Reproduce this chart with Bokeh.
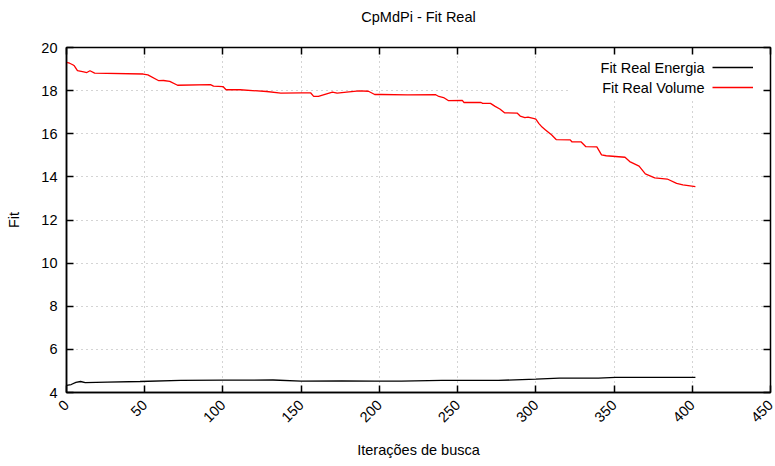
import math
from bokeh.plotting import figure
from bokeh.models import (Range1d, LinearAxis, Legend, LegendItem, Label,
                          BoxAnnotation, ColumnDataSource)
from bokeh.embed import file_html
from bokeh.resources import INLINE

# ---------------- data ----------------
title_text = "CpMdPi - Fit Real"
x_label = "Iterações de busca"
y_label = "Fit"
series_names = ["Fit Real Energia", "Fit Real Volume"]
x_ticks = [0, 50, 100, 150, 200, 250, 300, 350, 400, 450]
y_ticks = [4, 6, 8, 10, 12, 14, 16, 18, 20]

energia_iter = [0, 3, 6, 9, 12, 26, 47, 73, 100, 132, 150, 176, 197, 214,
                240, 276, 300, 315, 340, 351, 402]
energia_fit = [4.33, 4.37, 4.47, 4.51, 4.46, 4.48, 4.51, 4.56, 4.57, 4.58,
               4.53, 4.54, 4.53, 4.53, 4.56, 4.56, 4.62, 4.67, 4.67, 4.70,
               4.70]

volume_iter = [0, 2, 4, 5, 7, 11, 13, 15, 18, 49, 52, 59, 62, 66, 71, 92,
               94, 100, 102, 111, 128, 137, 150, 156, 158, 161, 170, 173,
               179, 187, 193, 197, 201, 218, 236, 238, 241, 244, 253, 254,
               265, 266, 271, 274, 277, 280, 288, 290, 293, 295, 299, 300,
               302, 304, 306, 310, 313, 322, 323, 329, 332, 339, 342, 345,
               357, 360, 366, 370, 376, 384, 390, 394, 402]
volume_fit = [19.31, 19.27, 19.20, 19.15, 18.93, 18.87, 18.84, 18.92,
              18.81, 18.77, 18.73, 18.46, 18.47, 18.43, 18.25, 18.28,
              18.21, 18.19, 18.04, 18.04, 17.96, 17.88, 17.90, 17.90,
              17.73, 17.73, 17.93, 17.88, 17.93, 17.99, 17.97, 17.82,
              17.82, 17.80, 17.81, 17.73, 17.68, 17.54, 17.55, 17.45,
              17.45, 17.41, 17.41, 17.27, 17.15, 16.97, 16.96, 16.82,
              16.75, 16.77, 16.70, 16.68, 16.47, 16.31, 16.19, 15.95,
              15.73, 15.72, 15.63, 15.62, 15.40, 15.39, 15.02, 14.98,
              14.91, 14.71, 14.50, 14.14, 13.95, 13.90, 13.70, 13.63,
              13.55]

# ---------------- style ----------------
FONT = "Liberation Sans"
FS = "14.5px"
GRID = "#a8a8a8"
FRAME_W, FRAME_H = 704, 345

p = figure(width=775, height=466, output_backend="svg", toolbar_location=None,
           x_range=Range1d(x_ticks[0], x_ticks[-1]),
           y_range=Range1d(y_ticks[0], y_ticks[-1]),
           min_border_left=66, min_border_right=5, min_border_top=47,
           min_border_bottom=74,
           title=title_text, x_axis_label=x_label, y_axis_label=y_label)

p.background_fill_color = "white"
p.border_fill_color = "white"
p.outline_line_color = "black"
p.outline_line_width = 1.5

p.title.text_font = FONT
p.title.text_font_size = FS
p.title.text_font_style = "normal"
p.title.text_color = "black"
p.title.align = "center"
p.title.standoff = 8

for ax in (p.xaxis[0], p.yaxis[0]):
    ax.major_tick_in = 7
    ax.major_tick_out = 0
    ax.minor_tick_in = 0
    ax.minor_tick_out = 0
    ax.major_tick_line_width = 1.5
    ax.axis_line_width = 1.5
    ax.axis_line_color = "black"
    ax.major_label_text_font = FONT
    ax.major_label_text_font_size = FS
    ax.major_label_text_color = "black"
    ax.axis_label_text_font = FONT
    ax.axis_label_text_font_size = FS
    ax.axis_label_text_font_style = "normal"
    ax.axis_label_text_color = "black"

p.xaxis.ticker = x_ticks
p.yaxis.ticker = y_ticks
p.xaxis.major_label_orientation = math.pi / 4
p.xaxis.major_label_standoff = 10
p.yaxis.major_label_standoff = 9
p.xaxis.axis_label_standoff = 12
p.yaxis.axis_label_standoff = 16

p.xgrid.ticker = x_ticks
p.ygrid.ticker = y_ticks
for g in (p.xgrid[0], p.ygrid[0]):
    g.grid_line_color = GRID
    g.grid_line_dash = "1 4"
    g.grid_line_width = 1

# mirrored tick marks on top and right (labels not drawn)
for side, ticks in (("above", x_ticks), ("right", y_ticks)):
    ax = LinearAxis(ticker=ticks, major_label_text_font_size="0px",
                    major_label_text_color=None,
                    major_label_standoff=0, major_tick_in=7,
                    major_tick_out=0, minor_tick_in=0, minor_tick_out=0,
                    axis_line_color=None, major_tick_line_width=1.5)
    p.add_layout(ax, side)

# invisible spacer between frame and title (keeps title distance)
spacer = LinearAxis(ticker=x_ticks, major_label_text_font_size="0px",
                    major_label_text_color=None, major_label_standoff=0,
                    major_tick_in=0, major_tick_out=19,
                    major_tick_line_color=None, minor_tick_in=0,
                    minor_tick_out=0, axis_line_color=None)
p.add_layout(spacer, "above")

# blank area behind the key (hides grid like the original)
key_bg = BoxAnnotation(left=504, left_units="screen", bottom=293,
                       bottom_units="screen", right=FRAME_W - 1.5,
                       right_units="screen", top=FRAME_H - 1.5,
                       top_units="screen", fill_color="white", fill_alpha=1,
                       line_alpha=0, level="underlay")
p.add_layout(key_bg)

src_e = ColumnDataSource(dict(x=energia_iter, y=energia_fit))
src_v = ColumnDataSource(dict(x=volume_iter, y=volume_fit))
r_e = p.line("x", "y", source=src_e, line_color="black", line_width=1.3)
r_v = p.line("x", "y", source=src_v, line_color="#ff0000", line_width=1.3)

legend = Legend(items=[LegendItem(label="", renderers=[r_e]),
                       LegendItem(label="", renderers=[r_v])],
                location="top_right", margin=0, padding=10, spacing=0,
                glyph_width=41, glyph_height=20, label_height=20,
                label_width=7, label_standoff=0, label_text_font_size="1px",
                label_text_color=None,
                background_fill_alpha=0, border_line_alpha=0)
p.add_layout(legend)

for i, name in enumerate(series_names):
    p.add_layout(Label(x=638, y=325 - 20 * i, x_units="screen",
                       y_units="screen", text=name, text_align="right",
                       text_baseline="middle", text_font=FONT,
                       text_font_size=FS, text_color="black"))

open("out.html", "w").write(file_html(p, INLINE))
